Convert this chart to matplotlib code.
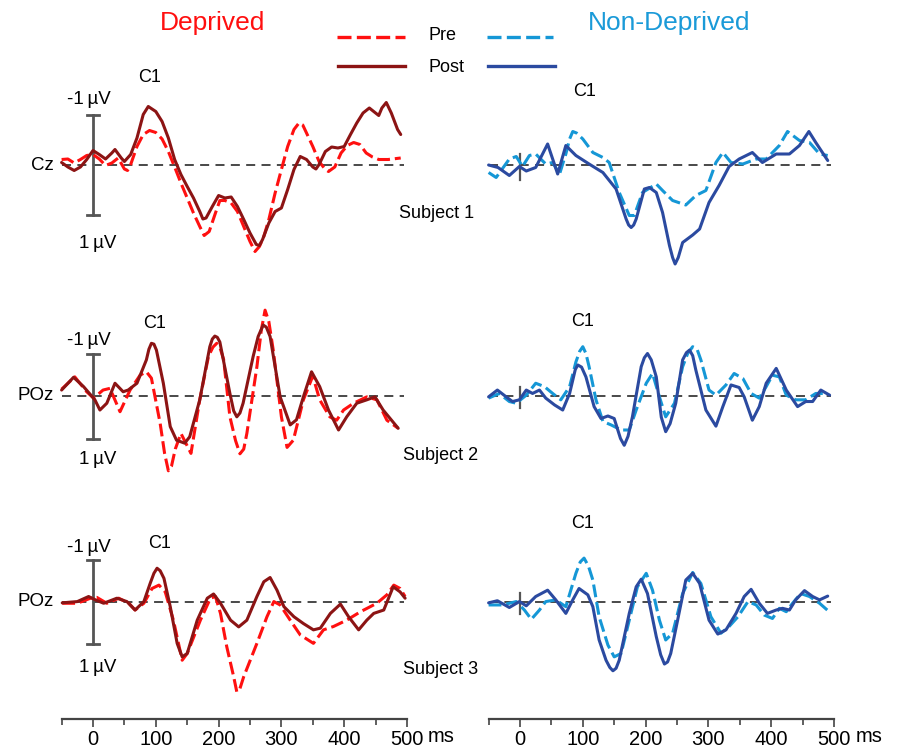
import matplotlib
matplotlib.use("Agg")
import matplotlib.pyplot as plt
from matplotlib.ticker import FixedLocator

# ---------------- data (time in ms, amplitude in microvolts, negative plotted up) ----------------
s1_dep_post_t = [-50,-40,-30,-20,-10,0,10,20,30,35,45,50,60,70,80,88,100,110,120,130,140,150,160,170,175,180,190,200,210,220,230,240,250,260,265,270,280,290,300,310,320,330,340,350,355,360,370,380,390,400,410,420,430,440,450,455,460,467,475,485,490]
s1_dep_post_v = [-0.05,0.04,0.11,0.04,-0.11,-0.29,-0.21,-0.12,-0.24,-0.31,-0.14,-0.07,-0.21,-0.54,-1.01,-1.17,-1.07,-0.87,-0.54,-0.11,0.19,0.43,0.66,0.93,1.08,1.06,0.83,0.61,0.66,0.64,0.83,1.09,1.36,1.59,1.61,1.49,1.16,0.93,0.86,0.49,0.09,-0.17,-0.11,0.04,0.08,-0.01,-0.27,-0.36,-0.34,-0.37,-0.61,-0.84,-1.04,-1.14,-1.04,-0.99,-1.14,-1.25,-1.04,-0.71,-0.61]
s1_dep_pre_t = [-50,-40,-30,-20,-10,0,10,20,30,40,50,55,60,70,80,90,100,110,120,130,140,150,160,170,177,185,195,202,210,220,230,240,250,258,265,272,280,290,300,310,320,328,334,340,350,360,370,375,385,395,405,415,425,435,445,455,470,490]
s1_dep_pre_v = [-0.11,-0.12,-0.04,-0.11,-0.19,-0.21,-0.12,0.01,-0.04,-0.14,0.08,0.11,-0.01,-0.37,-0.61,-0.69,-0.65,-0.52,-0.27,0.04,0.36,0.66,0.96,1.23,1.41,1.33,0.96,0.71,0.71,0.76,0.93,1.23,1.53,1.73,1.63,1.43,1.09,0.56,0.09,-0.37,-0.71,-0.84,-0.80,-0.64,-0.37,-0.07,0.09,0.13,0.04,-0.24,-0.39,-0.45,-0.41,-0.24,-0.16,-0.11,-0.11,-0.14]
s1_nd_post_t = [-50,-35,-17,-1,10,25,44,60,73,89,110,132,153,169,173,177,181,185,198,206,217,227,238,243,247,252,259,275,286,301,317,333,349,370,386,408,429,445,460,471,490]
s1_nd_post_v = [0.0,0.05,0.21,0.03,0.12,0.05,-0.42,0.18,-0.39,-0.19,-0.02,0.15,0.48,1.08,1.20,1.25,1.20,1.08,0.48,0.45,0.55,0.95,1.61,1.85,1.98,1.85,1.55,1.40,1.28,0.75,0.41,0.03,-0.12,-0.25,-0.05,-0.22,-0.22,-0.39,-0.67,-0.45,-0.09]
s1_nd_pre_t = [-50,-38,-17,-6,4,15,25,41,52,63,73,79,84,90,100,116,132,142,158,174,182,195,217,227,243,264,280,296,312,323,336,355,376,392,413,426,445,461,477,490]
s1_nd_pre_v = [0.15,0.25,-0.12,-0.17,0.03,-0.19,-0.22,-0.02,-0.05,0.18,-0.22,-0.52,-0.67,-0.64,-0.52,-0.25,-0.15,-0.05,0.55,1.01,1.01,0.55,0.38,0.51,0.71,0.80,0.61,0.51,-0.05,-0.25,-0.05,-0.02,-0.12,-0.12,-0.39,-0.67,-0.49,-0.45,-0.22,-0.19]

s2_dep_post_t = [-50,-31,-15,3,11,22,35,48,56,70,85,89,93,97,101,112,123,133,146,154,170,186,190,194,198,202,218,224,229,234,239,255,263,271,276,282,298,314,324,335,348,361,375,391,404,420,436,449,462,486]
s2_dep_post_v = [-0.14,-0.44,-0.22,0.09,0.33,0.17,-0.30,-0.10,-0.14,-0.30,-0.85,-1.10,-1.24,-1.22,-1.08,-0.30,0.72,1.04,1.11,0.96,0.09,-1.16,-1.34,-1.41,-1.38,-1.27,-0.06,0.35,0.49,0.40,0.17,-0.93,-1.40,-1.67,-1.62,-1.40,0.02,0.68,0.56,0.02,-0.57,-0.22,0.33,0.80,0.49,0.17,0.09,0.02,0.33,0.76]
s2_dep_pre_t = [-50,-29,-10,1,16,27,43,59,75,85,93,107,114,120,125,131,140,156,170,184,191,197,203,208,218,227,234,240,245,261,268,274,280,287,300,309,319,335,350,361,377,388,399,415,436,452,468,486]
s2_dep_pre_v = [-0.16,-0.45,-0.10,0.05,-0.14,-0.18,0.37,-0.14,-0.49,-0.57,-0.42,0.65,1.35,1.76,1.65,1.25,0.88,1.35,0.09,-0.94,-1.15,-1.24,-1.10,-0.86,0.49,1.05,1.36,1.25,0.88,-0.69,-1.55,-2.02,-1.75,-1.08,0.49,1.21,1.04,0.09,-0.47,0.09,0.49,0.57,0.33,0.17,0.02,0.09,0.57,0.76]
s2_nd_post_t = [-50,-36,-22,-12,-1,10,20,31,41,55,68,79,88,92,98,105,118,129,140,150,160,166,172,179,193,198,203,209,217,225,232,239,248,259,265,270,275,280,296,312,323,336,349,357,370,381,392,408,424,442,455,466,479,493]
s2_nd_post_v = [0.02,-0.14,0.02,0.13,0.09,-0.14,-0.06,-0.14,0.05,0.21,0.33,-0.06,-0.62,-0.73,-0.68,-0.45,0.25,0.53,0.47,0.53,1.00,1.16,0.95,0.49,-0.69,-0.90,-1.00,-0.85,-0.45,0.50,0.84,0.65,0.17,-0.85,-1.02,-1.08,-0.95,-0.61,0.33,0.71,0.25,-0.26,-0.20,0.02,0.57,0.25,-0.30,-0.65,-0.14,0.25,0.13,0.13,-0.14,-0.02]
s2_nd_pre_t = [-50,-33,-17,-6,10,25,39,52,65,79,89,95,100,105,110,121,132,145,161,174,185,201,211,222,232,246,259,267,275,282,288,301,312,328,341,355,368,381,392,402,413,424,439,455,471,490]
s2_nd_pre_v = [0.05,-0.06,0.13,0.17,-0.02,-0.30,-0.22,-0.06,0.09,-0.22,-0.80,-1.05,-1.16,-1.00,-0.69,0.09,0.60,0.68,0.80,0.80,0.33,-0.30,-0.53,0.02,0.49,0.17,-0.69,-1.00,-1.16,-1.10,-0.85,-0.14,-0.02,-0.26,-0.53,-0.41,-0.06,0.05,-0.22,-0.49,-0.45,-0.02,0.09,0.09,-0.06,-0.06]

s3_dep_post_t = [-49,-25,-7,4,17,38,54,67,81,91,97,102,107,113,123,134,142,150,166,182,192,203,219,232,245,261,272,282,293,304,320,335,351,362,378,394,407,423,436,447,463,478,489,497]
s3_dep_post_v = [0.02,-0.01,-0.13,-0.05,0.03,-0.09,-0.01,0.19,-0.01,-0.44,-0.68,-0.80,-0.74,-0.56,0.11,0.98,1.30,1.22,0.43,-0.09,-0.19,0.03,0.43,0.59,0.43,-0.13,-0.48,-0.58,-0.28,0.11,0.35,0.51,0.66,0.62,0.27,0.05,0.35,0.66,0.43,0.27,0.19,-0.36,-0.24,-0.09]
s3_dep_pre_t = [-49,-25,-4,6,22,41,57,67,81,94,105,115,128,142,150,171,187,195,203,213,224,229,234,240,261,277,288,298,314,330,351,367,383,404,426,452,468,479,489,497]
s3_dep_pre_v = [0.03,0.03,-0.09,-0.11,0.03,-0.09,0.03,0.19,0.03,-0.32,-0.40,-0.24,0.43,1.38,1.22,0.43,-0.09,-0.13,0.27,1.06,1.77,2.13,2.05,1.77,0.98,0.35,-0.01,0.07,0.43,0.78,0.98,0.66,0.58,0.43,0.23,0.03,-0.17,-0.40,-0.32,-0.13]
s3_nd_post_t = [-50,-36,-17,-1,10,25,44,57,73,84,94,108,116,126,137,143,148,153,158,174,185,193,203,217,224,230,235,240,251,264,275,286,301,315,328,344,357,368,381,394,408,418,429,439,453,466,477,490]
s3_nd_post_v = [0.02,-0.03,0.13,-0.01,0.09,-0.13,-0.28,-0.05,0.27,-0.05,-0.32,-0.17,0.11,0.90,1.38,1.55,1.63,1.57,1.38,0.27,-0.36,-0.54,-0.20,0.82,1.25,1.47,1.42,1.22,0.43,-0.52,-0.68,-0.44,0.43,0.76,0.66,0.27,-0.13,-0.30,0.03,0.27,0.19,0.15,0.19,-0.05,-0.27,-0.13,-0.05,-0.14]
s3_nd_pre_t = [-50,-28,-6,7,18,31,41,57,73,89,96,102,109,116,126,140,150,161,174,187,201,211,222,232,243,259,275,288,304,320,333,347,363,376,389,402,413,424,434,447,461,477,490]
s3_nd_pre_v = [0.07,0.07,-0.01,0.19,0.41,0.19,-0.01,-0.05,0.11,-0.68,-0.95,-1.04,-0.85,-0.52,0.35,1.02,1.30,1.22,0.43,-0.36,-0.68,-0.28,0.43,0.90,0.74,-0.20,-0.70,-0.44,0.35,0.74,0.58,0.35,-0.01,0.07,0.31,0.39,0.15,0.23,0.03,-0.20,-0.13,0.03,0.20]

groups = ["Deprived", "Non-Deprived"]
conditions = ["Pre", "Post"]
channels = ["Cz", "POz", "POz"]
subjects = ["Subject 1", "Subject 2", "Subject 3"]
peak_label = "C1"
tick_values = [0, 100, 200, 300, 400, 500]
minor_tick_values = [-50, 50, 150, 250, 350, 450]

# ---------------- style ----------------
DEP_PRE = "#ff1010"
DEP_POST = "#8c1414"
ND_PRE = "#1597d6"
ND_POST = "#2b4aa0"
GREY = "#3a3a3a"
FONT = ["Liberation Sans", "DejaVu Sans"]
plt.rcParams["font.family"] = FONT

W, H = 898, 748
fig = plt.figure(figsize=(W / 100, H / 100), dpi=100)


def ax_px(x0, y0, x1, y1):
    return fig.add_axes([x0 / W, 1 - y1 / H, (x1 - x0) / W, (y1 - y0) / H])


def txt(x, y, s, size=13, color="black", ha="center", va="center"):
    fig.text(x / W, 1 - y / H, s, fontsize=size, color=color, ha=ha, va=va)


DASH = (0, (4.2, 1.6))
LW = 2.2

rows = [
    # pixel rows: top, bottom, baseline, px per microvolt
    (80, 270, 165, 50.0),
    (300, 480, 396, 42.5),
    (520, 700, 602, 42.2),
]
cols = [(61.6, 407.0), (488.6, 834.0)]

data = [
    [(s1_dep_pre_t, s1_dep_pre_v, s1_dep_post_t, s1_dep_post_v),
     (s1_nd_pre_t, s1_nd_pre_v, s1_nd_post_t, s1_nd_post_v)],
    [(s2_dep_pre_t, s2_dep_pre_v, s2_dep_post_t, s2_dep_post_v),
     (s2_nd_pre_t, s2_nd_pre_v, s2_nd_post_t, s2_nd_post_v)],
    [(s3_dep_pre_t, s3_dep_pre_v, s3_dep_post_t, s3_dep_post_v),
     (s3_nd_pre_t, s3_nd_pre_v, s3_nd_post_t, s3_nd_post_v)],
]

for r, (top, bot, base, scale) in enumerate(rows):
    for c, (x0, x1) in enumerate(cols):
        ax = ax_px(x0, top, x1, bot)
        ax.set_xlim(-50, 500)
        ax.set_ylim((bot - base) / scale, (top - base) / scale)
        ax.axis("off")
        pre_t, pre_v, post_t, post_v = data[r][c]
        ax.plot([-50, 495], [0, 0], color=GREY, lw=1.3, ls=(0, (5, 3.5)), zorder=1)
        if c == 0:
            for seg in ([[0, 0], [-1, 1]], [[-10, 10], [-1, -1]], [[-10, 10], [1, 1]]):
                ax.plot(seg[0], seg[1], color="#555555", lw=2.0, zorder=2, clip_on=False)
            pre_col, post_col = DEP_PRE, DEP_POST
        else:
            ax.plot([0, 0], [-0.22, 0.29], color="#555555", lw=1.6, zorder=2, clip_on=False)
            pre_col, post_col = ND_PRE, ND_POST
        ax.plot(pre_t, pre_v, color=pre_col, lw=LW, ls=DASH, zorder=3, clip_on=False,
                dash_joinstyle="round")
        ax.plot(post_t, post_v, color=post_col, lw=LW, zorder=4, clip_on=False,
                solid_joinstyle="round", solid_capstyle="round")

# time axes
for (x0, x1), msx in zip(cols, [441, 869]):
    tax = ax_px(x0, 700, x1, 719)
    tax.set_xlim(-50, 500)
    tax.set_ylim(0, 1)
    for s in ["top", "left", "right"]:
        tax.spines[s].set_visible(False)
    tax.spines["bottom"].set_color("#444444")
    tax.spines["bottom"].set_linewidth(1.6)
    tax.set_yticks([])
    tax.xaxis.set_major_locator(FixedLocator(tick_values))
    tax.xaxis.set_minor_locator(FixedLocator(minor_tick_values))
    tax.tick_params(axis="x", which="major", length=6, width=1.2, color="#444444",
                    labelsize=14.5, pad=2, direction="out")
    tax.tick_params(axis="x", which="minor", length=4, width=1.2, color="#444444", direction="out")
    tax.patch.set_alpha(0)
    txt(msx, 737, "ms", size=14.5)

# titles
txt(213, 23, groups[0], size=19, color="#ff0f0f")
txt(669, 23, groups[1], size=19, color="#1a9ad8")

# legend
lg = fig.add_axes([0, 0, 1, 1])
lg.set_xlim(0, W)
lg.set_ylim(H, 0)
lg.axis("off")
lg.plot([337, 405], [37, 37], color=DEP_PRE, lw=2.4, ls=DASH)
lg.plot([338, 405], [66, 66], color=DEP_POST, lw=2.4)
lg.plot([487, 553], [37, 37], color=ND_PRE, lw=2.4, ls=DASH)
lg.plot([488, 555], [66, 66], color=ND_POST, lw=2.4)
txt(442, 36, conditions[0], size=13)
txt(447, 68, conditions[1], size=13)

# channel labels, scale labels, peak labels, subject labels
chan_y = [165, 395, 602]
for ch, y in zip(channels, chan_y):
    txt(54, y, ch, size=13.5, ha="right")
neg_y = [100, 340, 547]
pos_y = [243, 460, 667]
for y in neg_y:
    txt(89, y, "-1\u2009\u00b5V", size=13.5)
for y in pos_y:
    txt(98, y, "1\u2009\u00b5V", size=13.5)
c1_pos = [(150, 77), (155, 323), (160, 544), (585, 92), (583, 321), (583, 524)]
for (x, y) in c1_pos:
    txt(x, y, peak_label, size=13)
subj_pos = [(437, 214), (441, 455), (441, 670)]
for s, (x, y) in zip(subjects, subj_pos):
    txt(x, y, s, size=13)

fig.savefig("out.png", dpi=100)
